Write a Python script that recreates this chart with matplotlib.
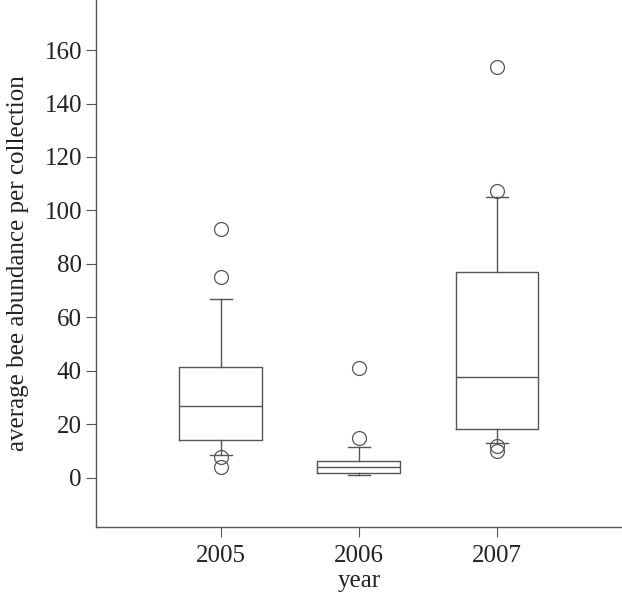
import matplotlib
matplotlib.use("Agg")
import matplotlib.pyplot as plt

plt.rcParams['font.family'] = ['Liberation Serif', 'TeX Gyre Termes', 'DejaVu Serif']

years = ['2005', '2006', '2007']
q1 = [14.2, 2.0, 18.2]
med = [26.9, 4.0, 37.9]
q3 = [41.4, 6.4, 77.1]
whislo = [8.6, 1.0, 13.0]
whishi = [67.0, 11.5, 104.9]
fliers = [[93.0, 75.0, 8.0, 3.9], [41.0, 15.1], [153.8, 107.4, 12.0, 10.1]]

stats = []
for i in range(len(years)):
    stats.append(dict(label=years[i], q1=q1[i], med=med[i], q3=q3[i],
                      whislo=whislo[i], whishi=whishi[i], fliers=fliers[i]))

col = '#555555'
txt = '#222222'
fig = plt.figure(figsize=(6.22, 5.96), dpi=100)
ax = fig.add_axes([0.154, 0.116, 0.846, 0.884])
ls = dict(color=col, linewidth=1.0)
ax.bxp(stats, positions=[0, 1, 2], widths=0.6, capwidths=0.16,
       boxprops=ls, medianprops=ls, whiskerprops=ls, capprops=ls,
       flierprops=dict(marker='o', markersize=10, markerfacecolor='none',
                       markeredgecolor=col, markeredgewidth=0.9))

ax.set_xlim(-0.906, 2.906)
ax.set_ylim(-18.3, 178.7)
ax.set_yticks(range(0, 161, 20))
ax.set_xticks([0, 1, 2])
ax.set_xticklabels(years)
ax.spines['top'].set_visible(False)
ax.spines['right'].set_visible(False)
for s in ['left', 'bottom']:
    ax.spines[s].set_color(col)
    ax.spines[s].set_linewidth(1.0)
ax.tick_params(colors=col, labelcolor=txt, labelsize=18, length=7, width=0.8, pad=3)
ax.tick_params(axis='x', pad=6)
ax.set_xlabel('year', fontsize=18, color=txt, labelpad=2)
ax.set_ylabel('average bee abundance per collection', fontsize=18, color=txt, labelpad=11)

fig.savefig('out.png', dpi=100)
